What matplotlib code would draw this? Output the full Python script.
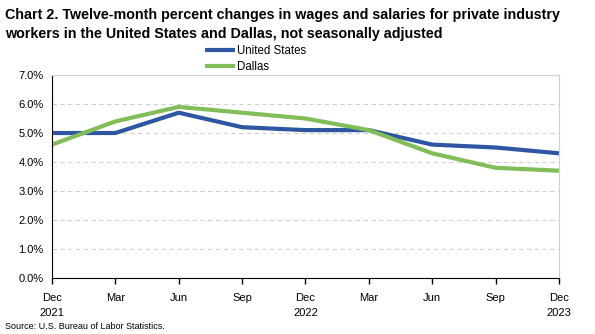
import matplotlib
matplotlib.use("Agg")
import matplotlib.pyplot as plt
from matplotlib.ticker import FuncFormatter

# data
quarters = ["Dec\n2021", "Mar", "Jun", "Sep", "Dec\n2022", "Mar", "Jun", "Sep", "Dec\n2023"]
us = [5.0, 5.0, 5.7, 5.2, 5.1, 5.1, 4.6, 4.5, 4.3]
dallas = [4.6, 5.4, 5.9, 5.7, 5.5, 5.1, 4.3, 3.8, 3.7]

plt.rcParams['font.family'] = ['Liberation Sans', 'DejaVu Sans']

fig = plt.figure(figsize=(5.95, 3.34), dpi=100)
ax = fig.add_axes([0.0874, 0.1677, 0.852, 0.6077])

x = range(len(quarters))
ax.plot(x, us, color='#2E56A3', lw=3, label='United States', solid_capstyle='butt')
ax.plot(x, dallas, color='#82BD5A', lw=3, label='Dallas', solid_capstyle='butt')

ax.set_xlim(0, len(quarters) - 1)
ax.set_ylim(0, 7)
ax.set_yticks([0, 1, 2, 3, 4, 5, 6, 7])
ax.yaxis.set_major_formatter(FuncFormatter(lambda v, p: f"{v:.1f}%"))
ax.set_xticks(list(x))
ax.set_xticklabels(quarters, fontsize=8, linespacing=1.6)
ax.tick_params(axis='y', length=0, labelsize=8, pad=6)
ax.tick_params(axis='x', length=4, width=1, pad=7, direction='out')

ax.grid(axis='y', color='#D0D0D0', linestyle=(0, (4, 3)), lw=0.8)
ax.set_axisbelow(True)
for s in ['top', 'right']:
    ax.spines[s].set_color('#D0D0D0')
ax.spines['left'].set_color('black')
ax.spines['bottom'].set_color('black')

fig.text(0.008, 0.975, "Chart 2. Twelve-month percent changes in wages and salaries for private industry\n"
         "workers in the United States and Dallas, not seasonally adjusted",
         fontsize=10.3, fontweight='bold', va='top', ha='left', linespacing=1.45)

fig.legend(loc='center', bbox_to_anchor=(0.43, 0.823), frameon=False, fontsize=8.3,
           handlelength=2.6, handletextpad=0.2, labelspacing=0.4)

fig.text(0.008, 0.01, "Source: U.S. Bureau of Labor Statistics.", fontsize=6.5, va='bottom')

fig.savefig('out.png', dpi=100)
